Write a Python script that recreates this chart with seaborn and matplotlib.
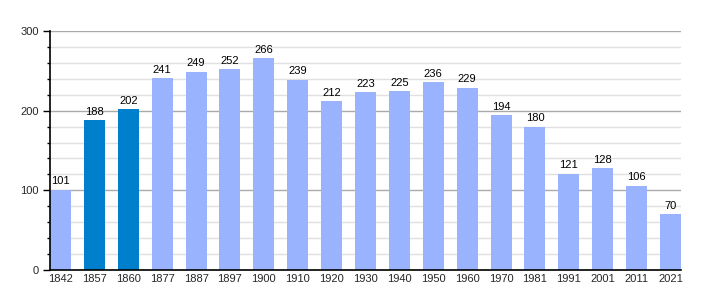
import matplotlib
matplotlib.use("Agg")
import matplotlib.pyplot as plt
import seaborn as sns
import pandas as pd
from matplotlib.ticker import MultipleLocator

years = ["1842", "1857", "1860", "1877", "1887", "1897", "1900", "1910", "1920", "1930",
         "1940", "1950", "1960", "1970", "1981", "1991", "2001", "2011", "2021"]
population = [101, 188, 202, 241, 249, 252, 266, 239, 212, 223,
              225, 236, 229, 194, 180, 121, 128, 106, 70]
highlight = ["1857", "1860"]

df = pd.DataFrame({"year": years, "pop": population})
palette = {y: ("#0080cc" if y in highlight else "#99b3ff") for y in years}

sns.set_style("white")
plt.rcParams['font.family'] = ['Liberation Sans', 'DejaVu Sans']

fig = plt.figure(figsize=(7.1, 3.0), dpi=100)
ax = fig.add_axes([50/710, 30/300, 631/710, 239/300])

sns.barplot(data=df, x="year", y="pop", hue="year", palette=palette, legend=False,
            width=0.62, ax=ax, saturation=1, linewidth=0)
for p in ax.patches:
    p.set_zorder(3)

ax.set_xlim(-0.31, len(years) - 1 + 0.31)
ax.set_ylim(0, 300)
ax.yaxis.set_major_locator(MultipleLocator(100))
ax.yaxis.set_minor_locator(MultipleLocator(20))
ax.set_axisbelow(True)
ax.grid(which="major", axis="y", color="#aaaaaa", linewidth=1)
ax.grid(which="minor", axis="y", color="#e0e0e0", linewidth=1)

for s in ["top", "right"]:
    ax.spines[s].set_visible(False)
for s in ["left", "bottom"]:
    ax.spines[s].set_color("black")
    ax.spines[s].set_linewidth(1.2)
    ax.spines[s].set_zorder(4)

ax.tick_params(axis="y", which="major", length=5, width=1, color="black", labelsize=8, pad=3, left=True)
ax.tick_params(axis="y", which="minor", length=2, width=1, color="black", left=True)
ax.tick_params(axis="x", length=0, labelsize=8, pad=3)
ax.set_xlabel("")
ax.set_ylabel("")

for i, v in enumerate(population):
    ax.text(i, v + 4, str(v), ha="center", va="bottom", fontsize=8, color="black", zorder=5)

fig.savefig("out.png", dpi=100)
